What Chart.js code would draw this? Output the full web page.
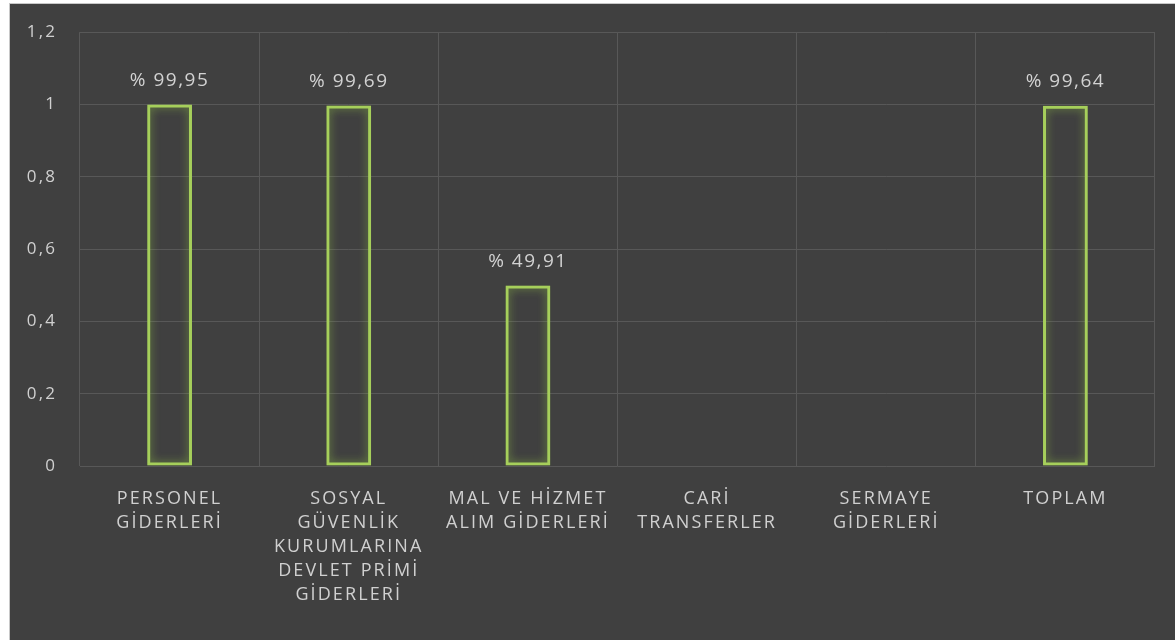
<!DOCTYPE html>
<html>
<head>
<meta charset="utf-8">
<script src="https://cdn.jsdelivr.net/npm/chart.js@4.4.1/dist/chart.umd.min.js"></script>
<style>
  html, body { margin: 0; padding: 0; background: #ffffff; }
  #wrap {
    position: absolute; left: 9px; top: 3px;
    width: 1166px; height: 637px;
    background: #404040;
    border-left: 1px solid #c8c8c8; border-top: 1px solid #c8c8c8;
    box-sizing: border-box;
  }
</style>
</head>
<body>
<div id="wrap"><canvas id="myChart" width="1165" height="636"></canvas></div>
<script>
// kategoriler ve oranlar (gerçekleşme / ödenek)
var kategoriler = [
  ['PERSONEL', 'GİDERLERİ'],
  ['SOSYAL', 'GÜVENLİK', 'KURUMLARINA', 'DEVLET PRİMİ', 'GİDERLERİ'],
  ['MAL VE HİZMET', 'ALIM GİDERLERİ'],
  ['CARİ', 'TRANSFERLER'],
  ['SERMAYE', 'GİDERLERİ'],
  'TOPLAM'
]
var oranlar = [0.9995, 0.9969, 0.4991, null, null, 0.9964]
var yEtiketleri = ['0', '0,2', '0,4', '0,6', '0,8', '1', '1,2']

var ctx = document.getElementById('myChart')
var yazi = '"Open Sans", "DejaVu Sans", sans-serif'

// harf aralığı (orijinaldeki geniş yazıya yaklaşmak için)
const aralik = {
  id: 'aralik',
  beforeLayout(chart) { chart.ctx.letterSpacing = '2.1px' },
  beforeDraw(chart) { chart.ctx.letterSpacing = '2.1px' }
}

// parlama efekti ve yüzde etiketleri
const parlama = {
  id: 'parlama',
  beforeDatasetsDraw(chart) {
    const c = chart.ctx
    c.save()
    c.shadowColor = 'rgba(150, 200, 70, 0.75)'
    c.shadowBlur = 9
  },
  afterDatasetsDraw(chart) {
    const c = chart.ctx
    c.restore()
    const meta = chart.getDatasetMeta(0)
    c.save()
    c.fillStyle = '#d2d2d2'
    c.font = '19px ' + yazi
    c.letterSpacing = '1.5px'
    c.textAlign = 'center'
    c.textBaseline = 'middle'
    meta.data.forEach((bar, i) => {
      const v = oranlar[i]
      if (v === null) return
      const txt = '% ' + (v * 100).toFixed(2).replace('.', ',')
      c.fillText(txt, bar.x, bar.y - 24)
    })
    c.restore()
  }
}

new Chart(ctx, {
  type: 'bar',
  data: {
    labels: kategoriler,
    datasets: [{
      data: oranlar,
      backgroundColor: 'rgba(0,0,0,0)',
      borderColor: '#a6cf5b',
      borderWidth: 3,
      borderSkipped: false,
      categoryPercentage: 1,
      barPercentage: 0.25
    }]
  },
  options: {
    responsive: false,
    animation: false,
    layout: { padding: { top: 4, right: 20, left: 0, bottom: 0 } },
    plugins: {
      legend: { display: false },
      tooltip: { enabled: false }
    },
    scales: {
      x: {
        grid: { color: '#585858', lineWidth: 1, drawTicks: false },
        border: { display: false },
        ticks: {
          color: '#d0d0d0',
          font: { family: yazi, size: 18, lineHeight: 1.333 },
          padding: 21,
          maxRotation: 0,
          autoSkip: false
        },
        afterFit(scale) { scale.height = 174 }
      },
      y: {
        min: 0,
        max: 1.2,
        grid: { color: '#585858', lineWidth: 1, drawTicks: false },
        border: { display: false },
        ticks: {
          stepSize: 0.2,
          color: '#d0d0d0',
          font: { family: yazi, size: 17, lineHeight: 0.6 },
          padding: 23,
          callback: (v, i) => yEtiketleri[i]
        },
        afterFit(scale) { scale.width = 70 }
      }
    }
  },
  plugins: [aralik, parlama]
})
</script>
</body>
</html>
